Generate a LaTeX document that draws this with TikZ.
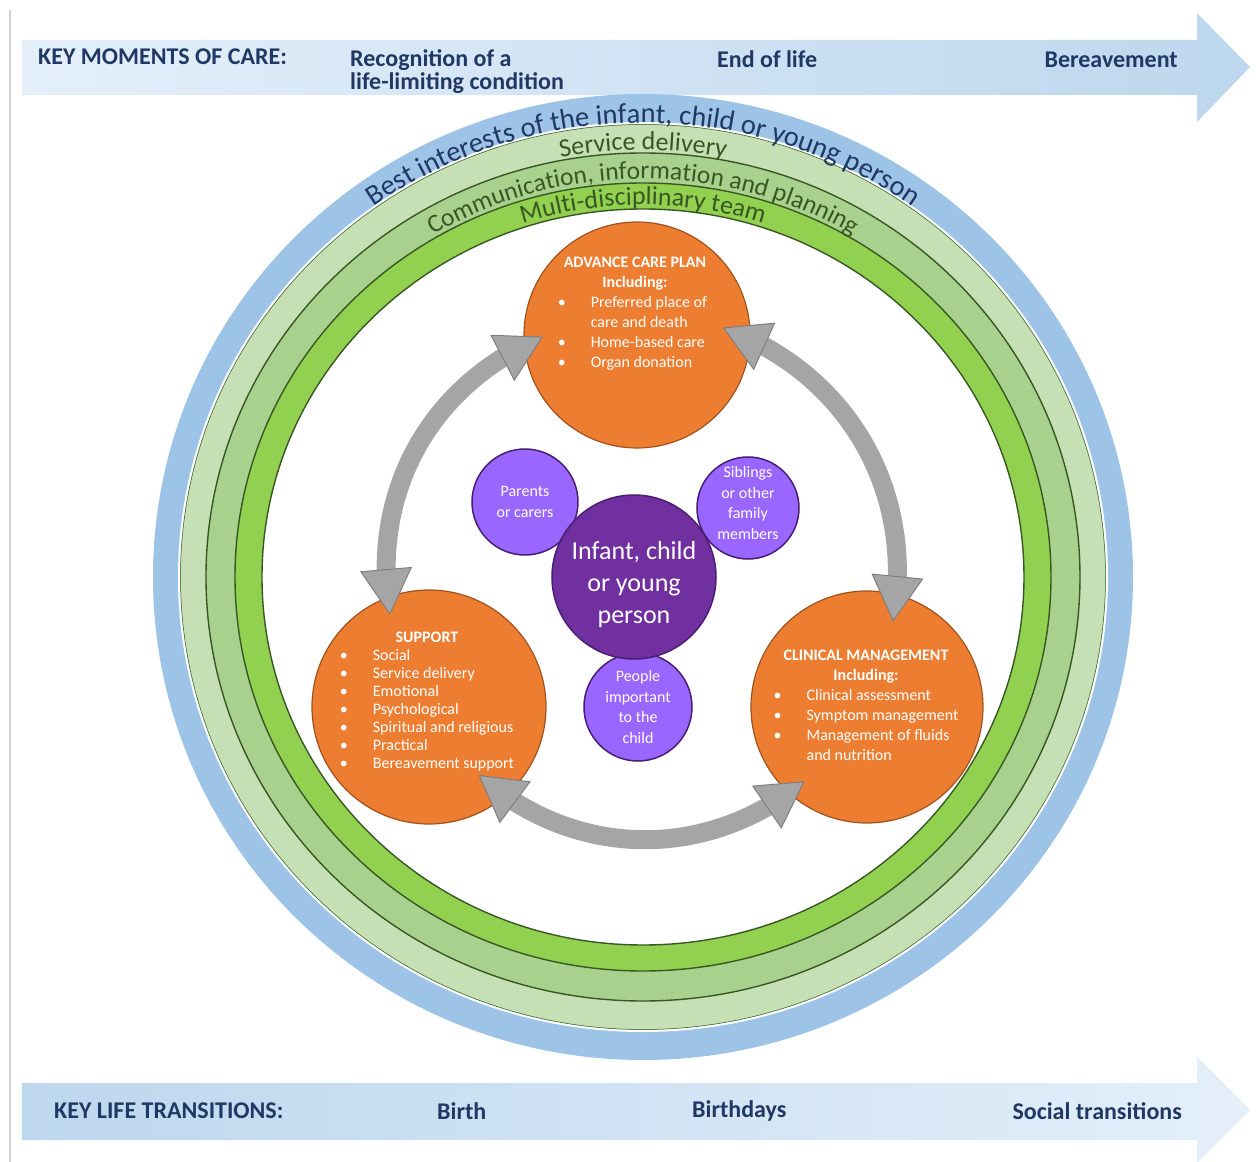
\documentclass[tikz,border=0pt]{standalone}
\usepackage{fontspec}
\setmainfont{Carlito}
\usetikzlibrary{arrows.meta, bending, calc, decorations.text}

\definecolor{navy}{HTML}{1F3864}
\definecolor{leafdark}{HTML}{385723}
\definecolor{ringblue}{HTML}{9DC3E6}
\definecolor{ringpale}{HTML}{C5E0B4}
\definecolor{ringmid}{HTML}{A9D18E}
\definecolor{ringbright}{HTML}{92D050}
\definecolor{careorange}{HTML}{ED7D31}
\definecolor{careedge}{HTML}{A0521C}
\definecolor{childpurple}{HTML}{7030A0}
\definecolor{familypurple}{HTML}{9966FF}
\definecolor{purpleedge}{HTML}{4A1F73}
\definecolor{cyclegray}{HTML}{A5A5A5}
\definecolor{cycleedge}{HTML}{7F7F7F}
\definecolor{bandpale}{HTML}{E4EFFA}
\definecolor{banddeep}{HTML}{BDD7EE}

\begin{document}
\begin{tikzpicture}[x=1pt, y=1pt,
care/.style={circle, draw=careedge, line width=1.2pt, fill=careorange, minimum size=#1, inner sep=0pt},
family/.style={circle, draw=purpleedge, line width=1.5pt, fill=familypurple, text=white, align=center, minimum size=#1, inner sep=0pt, font=\fontsize{16}{20.5}\selectfont},
caretext/.style={text=white, inner sep=0pt, font=\fontsize{16}{20}\selectfont},
cyclearrow/.style={draw=cyclegray, line width=19pt, <->, >={Triangle[length=46pt, width=52pt, line width=1pt, color=cycleedge, fill=cyclegray]}},
bandtext/.style={text=navy, inner sep=0pt, font=\bfseries\fontsize{24}{23}\selectfont},
ringline/.style={draw=leafdark, line width=1.4pt}]
\useasboundingbox (-643,-585) rectangle (613,577);
\coordinate (hub) at (0,0);
\draw[gray!35, line width=1.5pt] (-633,567) -- (-633,-585);

% key moments of care
\shade[left color=bandpale, right color=banddeep] (-621,537) -- (554,537) -- (554,564) -- (607,510) -- (554,455) -- (554,482) -- (-621,482) -- cycle;
\node[bandtext, anchor=west] (kmc) at (-605,520) {KEY MOMENTS OF CARE:};
\node[bandtext, anchor=west, align=left] (recog) at (-293,505) {Recognition of a\\life-limiting condition};
\node[bandtext, anchor=west] (eol) at (74,518) {End of life};
\node[bandtext, anchor=east] (bereave) at (535,517) {Bereavement};

% key life transitions
\shade[left color=banddeep, right color=bandpale] (-621,-506) -- (554,-506) -- (554,-480) -- (607,-533) -- (554,-586) -- (554,-563) -- (-621,-563) -- cycle;
\node[bandtext, anchor=west] (klt) at (-589,-534) {KEY LIFE TRANSITIONS:};
\node[bandtext, anchor=west] (birth) at (-206,-534) {Birth};
\node[bandtext, anchor=west] (bdays) at (49,-534) {Birthdays};
\node[bandtext, anchor=east] (social) at (539,-534) {Social transitions};

% rings
\fill[ringblue] (hub) ellipse[x radius=490pt, y radius=483pt];
\filldraw[fill=ringpale, draw=white, line width=2pt] (hub) ellipse[x radius=464pt, y radius=454pt];
\draw[leafdark, line width=0.5pt] (hub) ellipse[x radius=462.5pt, y radius=452.5pt];
\filldraw[fill=ringmid, ringline] (hub) ellipse[x radius=437pt, y radius=424pt];
\filldraw[fill=ringbright, ringline] (hub) ellipse[x radius=408pt, y radius=394pt];
\filldraw[fill=white, ringline] (hub) ellipse[x radius=381pt, y radius=368pt];

\path[decorate, decoration={text along path, text align=center, text color=navy,
  text={|\fontsize{28.5}{28.5}\selectfont|Best interests of the infant, child or young person}}]
  (hub) ++(165:466 and 454) arc[start angle=165, end angle=15, x radius=466pt, y radius=454pt];
\path[decorate, decoration={text along path, text align=center, text color=leafdark,
  text={|\fontsize{26}{26}\selectfont|Service delivery}}]
  (hub) ++(165:440 and 427) arc[start angle=165, end angle=15, x radius=440pt, y radius=427pt];
\path[decorate, decoration={text along path, text align=center, text color=leafdark,
  text={|\fontsize{25.5}{25.5}\selectfont|Communication, information and planning}}]
  (hub) ++(165:411 and 398) arc[start angle=165, end angle=15, x radius=411pt, y radius=398pt];
\path[decorate, decoration={text along path, text align=center, text color=leafdark,
  text={|\fontsize{26}{26}\selectfont|Multi-disciplinary team}}]
  (hub) ++(165:385 and 372) arc[start angle=165, end angle=15, x radius=385pt, y radius=372pt];

% care areas
\node[care=226pt] (acp) at (-6,242) {};
\node[care=234pt] (sup) at (-214,-130) {};
\node[care=232pt] (cm) at (224,-130) {};

\node[caretext] (acptext) at (-8,263) {\begin{tabular}{@{}l@{\hspace{25pt}}l@{}}
\multicolumn{2}{c}{\textbf{ADVANCE CARE PLAN}}\\
\multicolumn{2}{c}{\textbf{Including:}}\\
\textbullet & Preferred place of\\
 & care and death\\
\textbullet & Home-based care\\
\textbullet & Organ donation
\end{tabular}};
\node[caretext, font=\fontsize{16}{18}\selectfont] (suptext) at (-216,-125) {\begin{tabular}{@{}l@{\hspace{25pt}}l@{}}
\multicolumn{2}{c}{\textbf{SUPPORT}}\\
\textbullet & Social\\
\textbullet & Service delivery\\
\textbullet & Emotional\\
\textbullet & Psychological\\
\textbullet & Spiritual and religious\\
\textbullet & Practical\\
\textbullet & Bereavement support
\end{tabular}};
\node[caretext] (cmtext) at (223,-129) {\begin{tabular}{@{}l@{\hspace{25pt}}l@{}}
\multicolumn{2}{c}{\textbf{CLINICAL MANAGEMENT}}\\
\multicolumn{2}{c}{\textbf{Including:}}\\
\textbullet & Clinical assessment\\
\textbullet & Symptom management\\
\textbullet & Management of fluids\\
 & and nutrition
\end{tabular}};

% arrows between care areas
\draw[cyclearrow] ($(acp)+(181:94)$) to[bend right=38] ($(sup)+(113:100)$);
\draw[cyclearrow] ($(acp)+(5:86)$) to[bend left=40] ($(cm)+(73:89)$);
\draw[cyclearrow] ($(sup)+(-54:84)$) to[bend right=40] ($(cm)+(230:97)$);

% people round the child
\node[family=106pt] (parents) at (-118,75) {Parents\\or carers};
\node[family=102pt] (siblings) at (105,69) {};
\node[family=102pt, draw=none, fill=none] (sibtext) at ([yshift=5pt]siblings.center) {Siblings\\or other\\family\\members};
\node[family=108pt] (people) at (-5,-130) {People\\important\\to the\\child};
\node[circle, draw=purpleedge, line width=1.5pt, fill=childpurple, minimum size=164pt, inner sep=0pt] (child) at (-9,0) {};
\node[text=white, align=center, inner sep=0pt, font=\fontsize{26}{32}\selectfont] (childtext) at ([yshift=-8pt]child.center) {Infant, child\\or young\\person};
\end{tikzpicture}
\end{document}
